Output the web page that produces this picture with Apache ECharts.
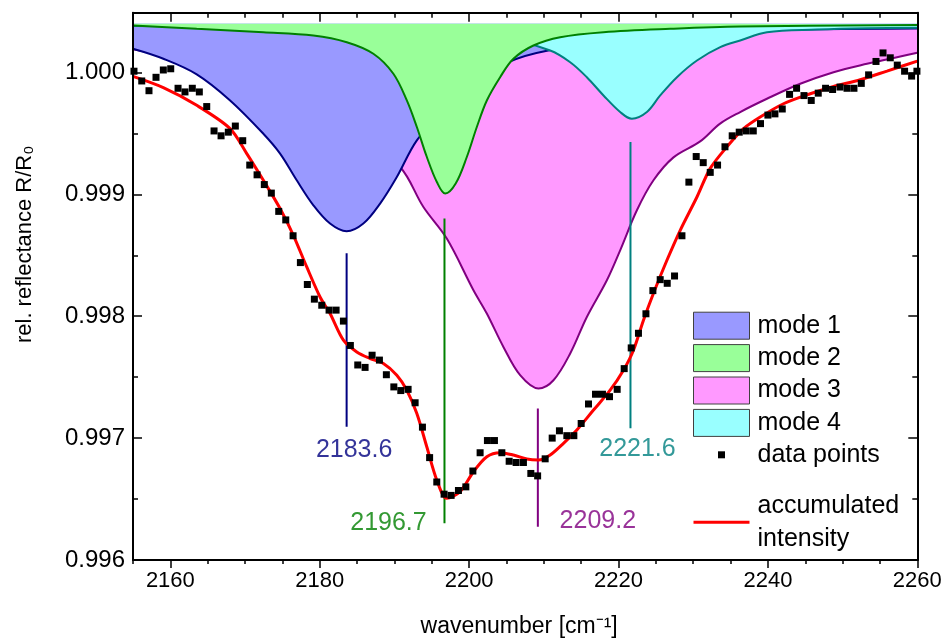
<!DOCTYPE html>
<html><head><meta charset="utf-8">
<script src="https://cdn.jsdelivr.net/npm/echarts@6/dist/echarts.min.js"></script>
<style>html,body{margin:0;padding:0;background:#fff}#c{width:942px;height:641px}</style>
</head><body><div id="c"></div>
<script>
const FONT = '"Liberation Sans", Arial, Helvetica, sans-serif';

// ---- measured data points ----
const pointWavenumber = [2155.13,2156.17,2157.14,2158.08,2159.06,2160.05,2161.03,2161.96,2162.94,2163.88,
2164.87,2165.85,2166.79,2167.76,2168.70,2169.69,2170.63,2171.61,2172.58,2173.52,
2174.51,2175.45,2176.43,2177.41,2178.34,2179.28,2180.27,2181.25,2182.19,2183.17,
2184.10,2185.09,2186.07,2187.01,2187.99,2188.92,2189.92,2190.85,2191.83,2192.77,
2193.75,2194.71,2195.67,2196.65,2197.59,2198.57,2199.56,2200.50,2201.47,2202.45,
2203.39,2204.38,2205.36,2206.29,2207.27,2208.26,2209.17,2210.18,2211.12,2212.09,
2213.08,2214.02,2215.00,2215.98,2216.92,2217.85,2218.79,2219.82,2220.76,2221.70,
2222.67,2223.67,2224.60,2225.58,2226.52,2227.50,2228.49,2229.42,2230.40,2231.34,
2232.28,2233.26,2234.25,2235.22,2236.16,2237.10,2238.04,2239.01,2240.00,2240.94,
2241.92,2242.90,2243.84,2244.83,2245.80,2246.74,2247.72,2248.66,2249.65,2250.59,
2251.52,2252.50,2253.48,2254.47,2255.41,2256.38,2257.32,2258.30,2259.24,2259.95];
const pointReflectance = [1.00001,0.99993,0.99985,0.99996,1.00002,1.00003,0.99987,0.99984,0.99987,0.99984,
0.99972,0.99952,0.99948,0.99951,0.99956,0.99944,0.99924,0.99916,0.99908,0.99901,
0.99886,0.99879,0.99866,0.99844,0.99826,0.99814,0.99809,0.99805,0.99805,0.99796,
0.99776,0.99760,0.99758,0.99768,0.99764,0.99752,0.99742,0.99739,0.99740,0.99729,
0.99709,0.99684,0.99664,0.99654,0.99653,0.99657,0.99660,0.99673,0.99688,0.99698,
0.99698,0.99688,0.99681,0.99680,0.99680,0.99671,0.99669,0.99683,0.99700,0.99706,
0.99702,0.99702,0.99712,0.99728,0.99736,0.99736,0.99734,0.99740,0.99757,0.99774,
0.99786,0.99802,0.99821,0.99830,0.99827,0.99833,0.99866,0.99910,0.99931,0.99926,
0.99918,0.99924,0.99939,0.99948,0.99951,0.99952,0.99952,0.99958,0.99965,0.99966,
0.99970,0.99982,0.99987,0.99981,0.99977,0.99983,0.99987,0.99986,0.99988,0.99987,
0.99987,0.99991,0.99998,1.00009,1.00016,1.00012,1.00006,1.00001,0.99997,1.00001];

// ---- fitted components ----
const baseline = 1.0004;
const mode1X = [2155,2159.06,2163.53,2168.0,2172.45,2174.69,2176.92,2179.15,2181.38,2183.6,2185.84,2188.08,2190.32,2193.0,2195.85,2199.87,2205.22,2210.58,2224.0,2237.6,2260];
const mode1Y = [1.000194,1.000112,0.999984,0.999770,0.999497,0.999334,0.999115,0.998910,0.998760,0.998697,0.998760,0.998924,0.999142,0.999443,0.999623,0.999852,1.000082,1.000180,1.000303,1.000344,1.000361];
const mode2X = [2155,2163.53,2172.45,2179.15,2183.62,2187.18,2189.86,2191.66,2193.0,2194.34,2195.68,2196.8,2198.2,2199.69,2201.03,2202.37,2204.15,2205.93,2208.61,2212.19,2217.99,2226.92,2236.29,2260];
const mode2Y = [1.000385,1.000358,1.000330,1.000303,1.000248,1.000153,0.999989,0.999770,0.999552,0.999306,0.999101,0.999006,0.999088,0.999306,0.999552,0.999770,0.999961,1.000112,1.000221,1.000289,1.000330,1.000358,1.000377,1.000389];
const mode3X = [2155,2163.97,2170.67,2177.37,2184.06,2190.76,2193.88,2197.01,2200.58,2202.37,2204.59,2206.83,2209.28,2211.29,2213.53,2215.76,2218.44,2220.22,2222.46,2224.68,2227.36,2230.93,2233.6,2236.29,2239.87,2244.33,2248.79,2253.26,2257.72,2260];
const mode3Y = [1.000189,1.000074,0.999959,0.999787,0.999566,0.999224,0.998896,0.998637,0.998213,0.998022,0.997748,0.997516,0.997407,0.997475,0.997694,0.997994,0.998295,0.998541,0.998869,0.999115,0.999303,0.999434,0.999580,0.999675,0.999784,0.999907,1.000002,1.000071,1.000131,1.000161];
const mode4X = [2155,2177.37,2190.76,2197.46,2204.15,2210.85,2213.53,2215.76,2217.99,2220.22,2221.79,2223.8,2225.58,2227.82,2230.5,2233.62,2236.29,2239.87,2246.57,2253.26,2260];
const mode4Y = [1.000381,1.000373,1.000361,1.000344,1.000295,1.000180,1.000084,0.999961,0.999811,0.999675,0.999620,0.999675,0.999811,0.999961,1.000098,1.000207,1.000262,1.000330,1.000352,1.000363,1.000366];
const fitX = [2155,2159.06,2163.53,2168.0,2170.23,2172.45,2174.69,2176.47,2178.26,2180.04,2181.38,2183.17,2184.96,2186.74,2188.52,2190.32,2191.66,2193.0,2194.33,2195.67,2197.01,2198.79,2200.58,2202.37,2204.15,2205.93,2207.73,2209.28,2210.85,2212.63,2214.42,2216.65,2218.88,2220.66,2222.0,2223.34,2224.68,2226.48,2228.26,2230.5,2232.28,2234.69,2236.74,2238.97,2242.09,2245.67,2248.79,2252.36,2255.94,2260];
const fitY = [0.999967,0.999875,0.999730,0.999539,0.999334,0.999115,0.998883,0.998664,0.998404,0.998158,0.998022,0.997803,0.997707,0.997653,0.997612,0.997516,0.997393,0.997202,0.996929,0.996656,0.996506,0.996560,0.996724,0.996847,0.996880,0.996861,0.996828,0.996820,0.996861,0.996957,0.997066,0.997230,0.997393,0.997557,0.997721,0.997967,0.998189,0.998459,0.998705,0.998978,0.999213,0.999402,0.999539,0.999634,0.999743,0.999825,0.999885,0.999940,1.000011,1.000093];

// ---- peak markers ----
const peakCenters = [2183.6, 2196.7, 2209.2, 2221.6];
const peakLineTop = [0.998516, 0.998801, 0.997243, 0.999429];
const peakLineBottom = [0.997093, 0.996301, 0.996273, 0.997080];

// ---- ticks ----
const xMajorTicks = [2160, 2180, 2200, 2220, 2240, 2260];
const xMinorTicks = [2155,2160,2165,2170,2175,2180,2185,2190,2195,2200,2205,2210,2215,2220,2225,2230,2235,2240,2245,2250,2255,2260];
const yMajorTicks = [0.996, 0.997, 0.998, 0.999, 1.000];
const yMinorTicks = [0.9965, 0.9975, 0.9985, 0.9995];

const zip = (xs, ys) => xs.map((x, i) => [x, ys[i]]);
const lineColors = ['#000080', '#008000', '#800080', '#008080'];
const fillColors = ['#9999ff', '#99ff99', '#ff99ff', '#99ffff'];

const AX = {color: '#000', width: 2};
const TK = {color: '#000', width: 1.5};
const xBase = {type: 'value', min: 2155, max: 2260, splitLine: {show: false}};
const yBase = {type: 'value', min: 0.996, max: 1.00049, splitLine: {show: false}};

function modeSeries(idx, xs, ys, z) {
  return {
    type: 'line', name: 'mode ' + (idx + 1), data: zip(xs, ys), smooth: 0.35,
    symbol: 'none', silent: true, z: z,
    lineStyle: {color: lineColors[idx], width: 2},
    itemStyle: {color: lineColors[idx]},
    areaStyle: {color: fillColors[idx], opacity: 1, origin: baseline}
  };
}

const markerSeries = peakCenters.map((c, i) => ({
  type: 'line', name: 'peak' + i, silent: true, symbol: 'none', z: 10,
  data: [[c, peakLineTop[i]], [c, peakLineBottom[i]]],
  lineStyle: {color: lineColors[i], width: 2}
}));
const labelOffsets = [[7.5, 23.3], [-56, -0.6], [60, -6], [7, 21]];

const chart = echarts.init(document.getElementById('c'), null, {renderer: 'canvas'});
chart.setOption({
  animation: false,
  backgroundColor: '#fff',
  grid: {left: 133, right: 24.7, top: 12.7, bottom: 81, outerBoundsMode: 'none', containLabel: false},
  xAxis: [
    Object.assign({}, xBase, {position: 'bottom', z: 20,
      axisLine: {show: true, onZero: false, lineStyle: AX},
      axisTick: {show: true, customValues: xMajorTicks, inside: false, length: 8, lineStyle: TK},
      axisLabel: {customValues: xMajorTicks, margin: 10, fontSize: 22, color: '#000', fontFamily: FONT,
        formatter: v => String(v)},
      name: 'wavenumber [cm\u207B\u00B9]', nameLocation: 'middle', nameGap: 55,
      nameTextStyle: {fontSize: 23, color: '#000', fontFamily: FONT, padding: [0, 12, 0, 0]}}),
    Object.assign({}, xBase, {position: 'bottom', axisLine: {show: false}, z: 20,
      axisTick: {show: true, customValues: xMinorTicks, inside: false, length: 4, lineStyle: TK},
      axisLabel: {show: false}}),
    Object.assign({}, xBase, {position: 'top', z: 20,
      axisLine: {show: true, onZero: false, lineStyle: AX},
      axisTick: {show: true, customValues: xMajorTicks, inside: true, length: 9, lineStyle: TK},
      axisLabel: {show: false}}),
    Object.assign({}, xBase, {position: 'top', axisLine: {show: false}, z: 20,
      axisTick: {show: true, customValues: xMinorTicks, inside: true, length: 5, lineStyle: TK},
      axisLabel: {show: false}})
  ],
  yAxis: [
    Object.assign({}, yBase, {position: 'left', z: 20,
      axisLine: {show: true, onZero: false, lineStyle: AX},
      axisTick: {show: true, customValues: yMajorTicks, inside: true, length: 9, lineStyle: TK},
      axisLabel: {customValues: yMajorTicks, margin: 8, fontSize: 24, color: '#000', fontFamily: FONT,
        formatter: v => v.toFixed(3)},
      name: 'rel. reflectance R/R\u2080', nameLocation: 'middle', nameGap: 97,
      nameTextStyle: {fontSize: 22, color: '#000', fontFamily: FONT, padding: [0, 0, 0, 84]}}),
    Object.assign({}, yBase, {position: 'left', axisLine: {show: false}, z: 20,
      axisTick: {show: true, customValues: yMinorTicks, inside: true, length: 5, lineStyle: TK},
      axisLabel: {show: false}}),
    Object.assign({}, yBase, {position: 'right', z: 20,
      axisLine: {show: true, onZero: false, lineStyle: AX},
      axisTick: {show: true, customValues: yMajorTicks, inside: true, length: 9, lineStyle: TK},
      axisLabel: {show: false}}),
    Object.assign({}, yBase, {position: 'right', axisLine: {show: false}, z: 20,
      axisTick: {show: true, customValues: yMinorTicks, inside: true, length: 5, lineStyle: TK},
      axisLabel: {show: false}})
  ],
  legend: {
    orient: 'vertical', left: 693, top: 311.7, padding: 0, z: 30,
    itemWidth: 56, itemHeight: 27, itemGap: 4.4, selectedMode: false,
    textStyle: {fontFamily: FONT, fontSize: 25, color: '#000', padding: [0, 0, 0, 3]},
    formatter: n => n === 'accumulated intensity' ? 'accumulated\nintensity' : n,
    data: [
      {name: 'mode 1', icon: 'rect', itemStyle: {color: fillColors[0], borderColor: '#404040', borderWidth: 1}},
      {name: 'mode 2', icon: 'rect', itemStyle: {color: fillColors[1], borderColor: '#404040', borderWidth: 1}},
      {name: 'mode 3', icon: 'rect', itemStyle: {color: fillColors[2], borderColor: '#404040', borderWidth: 1}},
      {name: 'mode 4', icon: 'rect', itemStyle: {color: fillColors[3], borderColor: '#404040', borderWidth: 1}},
      {name: 'data points', icon: 'path://M0,0M56,27M24.5,10h7v7h-7z', itemStyle: {color: '#000', borderWidth: 0}},
      {name: 'accumulated intensity', icon: 'path://M0,0M56,27M0,12h56v3h-56z',
        itemStyle: {color: '#ff0000', borderWidth: 0},
        textStyle: {padding: [33, 0, 0, 3], lineHeight: 33, fontSize: 25, fontFamily: FONT, color: '#000'}}
    ]
  },
  series: [
    modeSeries(2, mode3X, mode3Y, 2),
    modeSeries(0, mode1X, mode1Y, 3),
    modeSeries(3, mode4X, mode4Y, 4),
    modeSeries(1, mode2X, mode2Y, 5),
    ...markerSeries,
    {
      type: 'scatter', name: 'peak labels', silent: true, symbolSize: 0, z: 11,
      data: peakCenters.map((c, i) => ({
        value: [c, peakLineBottom[i]],
        label: {color: lineColors[i], offset: labelOffsets[i]}
      })),
      label: {show: true, position: 'inside', fontSize: 25, fontFamily: FONT,
        formatter: p => p.value[0].toFixed(1)}
    },
    {
      type: 'line', name: 'accumulated intensity', data: zip(fitX, fitY), smooth: 0.3,
      symbol: 'none', silent: true, z: 12,
      lineStyle: {color: '#ff0000', width: 3}, itemStyle: {color: '#ff0000'}
    },
    {
      type: 'scatter', name: 'data points', data: zip(pointWavenumber, pointReflectance),
      symbol: 'rect', symbolSize: 7, silent: true, z: 13, itemStyle: {color: '#000', opacity: 1}
    }
  ]
});
</script></body></html>
